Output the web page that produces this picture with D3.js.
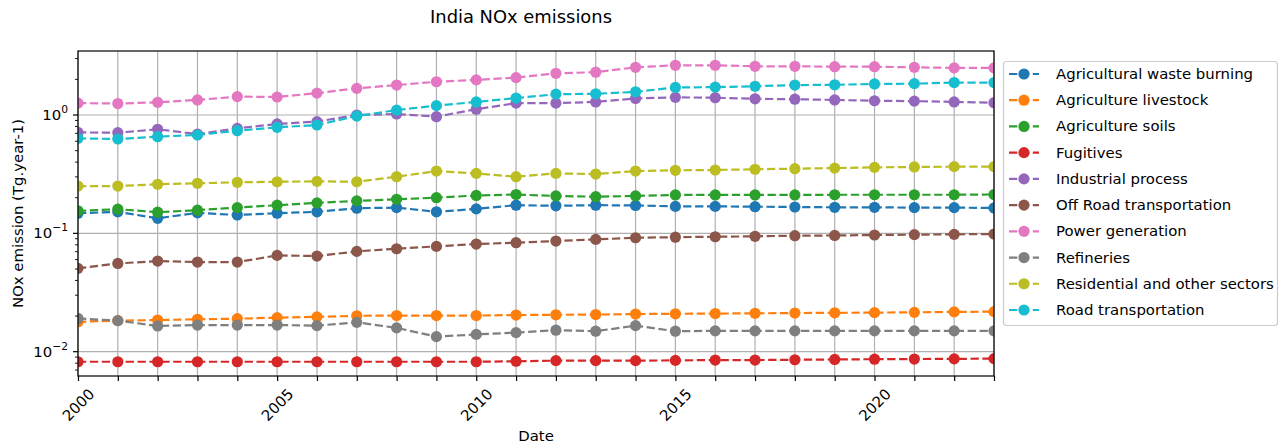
<!DOCTYPE html>
<html>
<head>
<meta charset="utf-8">
<script src="https://cdn.jsdelivr.net/npm/d3@7"></script>
<style>
  html, body { margin: 0; padding: 0; background: #fff; }
  svg { display: block; font-family: "DejaVu Sans", sans-serif; }
</style>
</head>
<body>
<svg id="chart" width="1282" height="448"></svg>
<script>
// India NOx emissions by sector, Tg per year
const years = d3.range(2000, 2024);

const sectors = [
  "Agricultural waste burning",
  "Agriculture livestock",
  "Agriculture soils",
  "Fugitives",
  "Industrial process",
  "Off Road transportation",
  "Power generation",
  "Refineries",
  "Residential and other sectors",
  "Road transportation"
];

const agriWasteBurning = [0.148,0.152,0.134,0.149,0.143,0.148,0.152,0.163,0.165,0.152,0.161,0.173,0.171,0.173,0.172,0.169,0.169,0.168,0.167,0.166,0.166,0.165,0.165,0.164];
const agriLivestock   = [0.0179,0.0183,0.0185,0.0188,0.0190,0.0194,0.0197,0.0201,0.0202,0.0202,0.0202,0.0204,0.0205,0.0206,0.0208,0.0209,0.0210,0.0211,0.0212,0.0213,0.0214,0.0215,0.0217,0.0218];
const agriSoils       = [0.155,0.160,0.151,0.157,0.165,0.173,0.181,0.188,0.194,0.200,0.209,0.213,0.207,0.204,0.207,0.211,0.211,0.211,0.211,0.212,0.212,0.212,0.212,0.213];
const fugitives       = [0.00822,0.00822,0.00822,0.00822,0.00822,0.00822,0.00822,0.00822,0.00822,0.00822,0.00822,0.0083,0.0084,0.0084,0.0084,0.00844,0.0085,0.0085,0.00855,0.0086,0.00864,0.00867,0.0087,0.00874];
const industrial      = [0.713,0.709,0.757,0.690,0.771,0.840,0.879,1.00,1.02,0.968,1.12,1.26,1.26,1.29,1.38,1.41,1.40,1.37,1.36,1.34,1.32,1.31,1.29,1.27];
const offRoad         = [0.0506,0.0557,0.0583,0.0572,0.0572,0.0651,0.0643,0.0704,0.0741,0.0776,0.0812,0.0834,0.0861,0.0889,0.0918,0.0928,0.0936,0.0944,0.0955,0.0960,0.0968,0.0975,0.0981,0.0987];
const power           = [1.26,1.25,1.28,1.34,1.43,1.42,1.53,1.68,1.79,1.91,1.98,2.07,2.25,2.30,2.53,2.63,2.63,2.58,2.58,2.56,2.56,2.53,2.50,2.50];
const refineries      = [0.0191,0.0183,0.0165,0.0168,0.0168,0.0168,0.0166,0.0177,0.0159,0.0134,0.0140,0.0145,0.0152,0.0149,0.0166,0.0149,0.0150,0.0150,0.0150,0.0150,0.0150,0.0150,0.0150,0.0150];
const residential     = [0.251,0.251,0.260,0.265,0.270,0.273,0.275,0.273,0.301,0.336,0.321,0.301,0.321,0.317,0.336,0.341,0.343,0.348,0.352,0.356,0.361,0.364,0.366,0.366];
const road            = [0.635,0.627,0.656,0.678,0.737,0.787,0.823,0.980,1.10,1.20,1.29,1.39,1.50,1.51,1.57,1.71,1.72,1.75,1.79,1.80,1.83,1.84,1.88,1.88];

const seriesValues = [agriWasteBurning, agriLivestock, agriSoils, fugitives, industrial,
                      offRoad, power, refineries, residential, road];

const xTickLabels = [2000, 2005, 2010, 2015, 2020];
const yTickLabels = [["10", "\u22122"], ["10", "\u22121"], ["10", "0"]];
const yTickValues = [0.01, 0.1, 1];

const colors = ["#1f77b4","#ff7f0e","#2ca02c","#d62728","#9467bd",
                "#8c564b","#e377c2","#7f7f7f","#bcbd22","#17becf"];

const series = sectors.map((name, i) => ({
  name, color: colors[i],
  points: years.map((yr, j) => ({ year: yr, value: seriesValues[i][j] }))
}));

// Layout
const plot = { left: 78, right: 994, top: 51, bottom: 376 };
const fs = 14.9;

const svg = d3.select("#chart");

const x = d3.scaleLinear().domain([2000, 2023]).range([plot.left, plot.right]);
const y = d3.scaleLog().domain([0.006232, 3.474]).range([plot.bottom, plot.top]);

svg.append("defs").append("clipPath").attr("id", "plot-clip")
  .append("rect")
  .attr("x", plot.left).attr("y", plot.top)
  .attr("width", plot.right - plot.left).attr("height", plot.bottom - plot.top);

// Grid lines
const grid = svg.append("g").attr("stroke", "#b0b0b0").attr("stroke-width", 1.2);
grid.selectAll("line.vx").data(years).join("line")
  .attr("x1", d => x(d)).attr("x2", d => x(d))
  .attr("y1", plot.top).attr("y2", plot.bottom);
grid.selectAll("line.hy").data(yTickValues).join("line")
  .attr("x1", plot.left).attr("x2", plot.right)
  .attr("y1", d => y(d)).attr("y2", d => y(d));

// Series
const lineGen = d3.line().x(d => x(d.year)).y(d => y(d.value));
const marks = svg.append("g").attr("clip-path", "url(#plot-clip)");
series.forEach(s => {
  const g = marks.append("g");
  g.append("path")
    .attr("d", lineGen(s.points))
    .attr("fill", "none")
    .attr("stroke", s.color)
    .attr("stroke-width", 2.2)
    .attr("stroke-dasharray", "8.3,3.6");
  g.selectAll("circle").data(s.points).join("circle")
    .attr("cx", d => x(d.year)).attr("cy", d => y(d.value))
    .attr("r", 5.6)
    .attr("fill", s.color);
});

// Axes
const xAxis = d3.axisBottom(x).tickValues(years).tickSize(5).tickSizeOuter(0)
  .tickFormat(d => xTickLabels.includes(d) ? d : "");
const gx = svg.append("g").attr("transform", `translate(0,${plot.bottom})`).call(xAxis);
gx.select(".domain").remove();
gx.selectAll(".tick line").attr("stroke", "#000").attr("stroke-width", 1.2);
gx.selectAll(".tick text")
  .attr("font-size", fs).attr("font-family", "DejaVu Sans").attr("fill", "#000")
  .attr("text-anchor", "middle").attr("dy", null).attr("y", 0)
  .attr("dominant-baseline", "central")
  .attr("transform", "translate(0,29) rotate(-45)");

const minorTicks = [];
for (let e = -3; e <= 0; e++) {
  for (let m = 2; m <= 9; m++) {
    const v = m * Math.pow(10, e);
    if (v >= 0.006232 && v <= 3.474) minorTicks.push(v);
  }
}
const gy = svg.append("g").attr("transform", `translate(${plot.left},0)`);
gy.selectAll("line.minor").data(minorTicks).join("line")
  .attr("x1", -3).attr("x2", 0)
  .attr("y1", d => y(d)).attr("y2", d => y(d))
  .attr("stroke", "#000").attr("stroke-width", 0.9);
gy.selectAll("line.major").data(yTickValues).join("line")
  .attr("x1", -5).attr("x2", 0)
  .attr("y1", d => y(d)).attr("y2", d => y(d))
  .attr("stroke", "#000").attr("stroke-width", 1.2);
const yt = gy.selectAll("text.ytick").data(yTickValues).join("text")
  .attr("x", -10).attr("y", d => y(d))
  .attr("text-anchor", "end").attr("dominant-baseline", "central")
  .attr("font-size", fs).attr("fill", "#000");
yt.append("tspan").text((d, i) => yTickLabels[i][0]);
yt.append("tspan").attr("dy", -6).attr("font-size", fs * 0.72)
  .text((d, i) => yTickLabels[i][1]);

// Frame
svg.append("rect")
  .attr("x", plot.left).attr("y", plot.top)
  .attr("width", plot.right - plot.left).attr("height", plot.bottom - plot.top)
  .attr("fill", "none").attr("stroke", "#000").attr("stroke-width", 1.2);

// Titles
svg.append("text").attr("x", 521).attr("y", 16)
  .attr("text-anchor", "middle").attr("dominant-baseline", "central")
  .attr("font-size", 17.9).attr("fill", "#000").text("India NOx emissions");
svg.append("text").attr("x", (plot.left + plot.right) / 2).attr("y", 436)
  .attr("text-anchor", "middle").attr("dominant-baseline", "central")
  .attr("font-size", fs).attr("fill", "#000").text("Date");
svg.append("text")
  .attr("transform", `translate(18,${(plot.top + plot.bottom) / 2}) rotate(-90)`)
  .attr("text-anchor", "middle").attr("dominant-baseline", "central")
  .attr("font-size", fs).attr("fill", "#000").text("NOx emission (Tg.year-1)");

// Legend
const legend = svg.append("g");
legend.append("rect")
  .attr("x", 1003.5).attr("y", 61.5).attr("width", 274).attr("height", 264)
  .attr("rx", 3).attr("fill", "#fff").attr("fill-opacity", 0.8)
  .attr("stroke", "#cccccc").attr("stroke-width", 1.2);
const rows = legend.selectAll("g.row").data(series).join("g")
  .attr("transform", (d, i) => `translate(0,${74 + i * 26.22})`);
rows.append("line")
  .attr("x1", 1009).attr("x2", 1039).attr("y1", 0).attr("y2", 0)
  .attr("stroke", d => d.color).attr("stroke-width", 2.2)
  .attr("stroke-dasharray", "8.3,3.6").attr("stroke-dashoffset", 0);
rows.append("circle").attr("cx", 1024).attr("cy", 0).attr("r", 5.6)
  .attr("fill", d => d.color);
rows.append("text").attr("x", 1056).attr("y", 0)
  .attr("dominant-baseline", "central")
  .attr("font-size", fs).attr("fill", "#000").text(d => d.name);
</script>
</body>
</html>
